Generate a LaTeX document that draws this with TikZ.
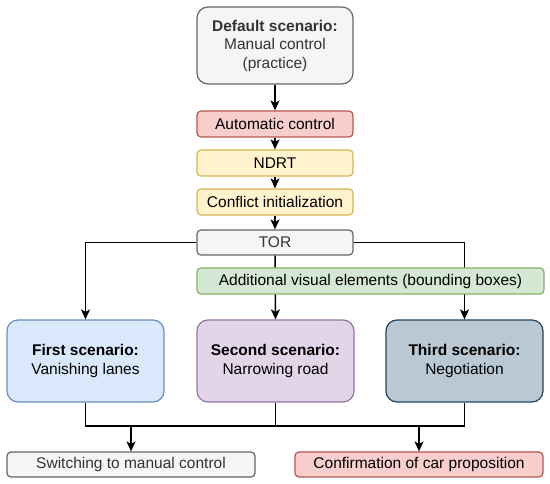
\documentclass[tikz,border=0pt]{standalone}
\usepackage{fontspec}
\setmainfont{Liberation Sans}
\usetikzlibrary{arrows.meta,calc}
\definecolor{grayF}{HTML}{F5F5F5}\definecolor{grayD}{HTML}{666666}
\definecolor{redF}{HTML}{F8CECC}\definecolor{redD}{HTML}{B85450}
\definecolor{yelF}{HTML}{FFF2CC}\definecolor{yelD}{HTML}{D6B656}
\definecolor{grnF}{HTML}{D5E8D4}\definecolor{grnD}{HTML}{82B366}
\definecolor{bluF}{HTML}{DAE8FC}\definecolor{bluD}{HTML}{6C8EBF}
\definecolor{purF}{HTML}{E1D5E7}\definecolor{purD}{HTML}{9673A6}
\definecolor{slaF}{HTML}{BAC8D3}\definecolor{slaD}{HTML}{23445D}
\definecolor{txtG}{HTML}{333333}
\tikzset{
  box/.style={draw, line width=1.2pt, rounded corners=4pt, inner sep=0pt, align=center,
    font=\fontsize{15.5}{18.5}\selectfont},
  bigbox/.style={box, rounded corners=11pt},
  smallbox/.style={box, minimum width=156pt, minimum height=26pt},
  conn/.style={line width=1.5pt, black},
  arr/.style={conn, -{Stealth[length=10pt,width=9pt,inset=2.5pt]}},
}
\begin{document}
\begin{tikzpicture}[x=1pt,y=-1pt]
\useasboundingbox (0,0) rectangle (550,484);
% nodes
\node[bigbox, fill=grayF, draw=grayD, text=txtG, minimum width=156pt, minimum height=77pt] (def) at (275,45.5)
  {\textbf{Default scenario:}\\Manual control\\(practice)};
\node[smallbox, fill=redF, draw=redD] (auto) at (275,124) {Automatic control};
\node[smallbox, fill=yelF, draw=yelD] (ndrt) at (275,163) {NDRT};
\node[smallbox, fill=yelF, draw=yelD] (conf) at (275,202) {Conflict initialization};
\node[smallbox, fill=grayF, draw=grayD, text=txtG, minimum height=25pt] (tor) at (275,242.5) {TOR};
\node[bigbox, fill=bluF, draw=bluD, minimum width=157pt, minimum height=82pt] (s1) at (85.5,361)
  {\textbf{First scenario:}\\Vanishing lanes};
\node[bigbox, fill=purF, draw=purD, minimum width=157pt, minimum height=82pt] (s2) at (275.5,361)
  {\textbf{Second scenario:}\\Narrowing road};
\node[bigbox, fill=slaF, draw=slaD, minimum width=157pt, minimum height=82pt] (s3) at (464.5,361)
  {\textbf{Third scenario:}\\Negotiation};
\node[box, fill=grayF, draw=grayD, text=txtG, minimum width=248pt, minimum height=25pt] (sw) at (131,464.5)
  {Switching to manual control};
\node[box, fill=redF, draw=redD, minimum width=248pt, minimum height=25pt] (cp) at (419,464.5)
  {Confirmation of car proposition};
% connectors
\draw[arr] (def) -- (auto);
\draw[arr] (auto) -- (ndrt);
\draw[arr] (ndrt) -- (conf);
\draw[arr] (conf) -- (tor);
\draw[arr] (tor.west) -| (s1.north);
\draw[arr] (tor.east) -| (s3.north);
\draw[arr] (tor.south) -- (s2.north);
\node[box, fill=grnF, draw=grnD, minimum width=347pt, minimum height=26pt] (grn) at (370.5,281)
  {Additional visual elements (bounding boxes)};
\coordinate (jm) at (275.5,426);
\draw[conn] (s1.south) |- (jm) -| (s3.south);
\draw[conn] (s2.south) -- (jm);
\coordinate (j1) at (sw.north |- jm);
\coordinate (j2) at (cp.north |- jm);
\draw[arr] (j1) -- (sw.north);
\draw[arr] (j2) -- (cp.north);
\end{tikzpicture}
\end{document}
